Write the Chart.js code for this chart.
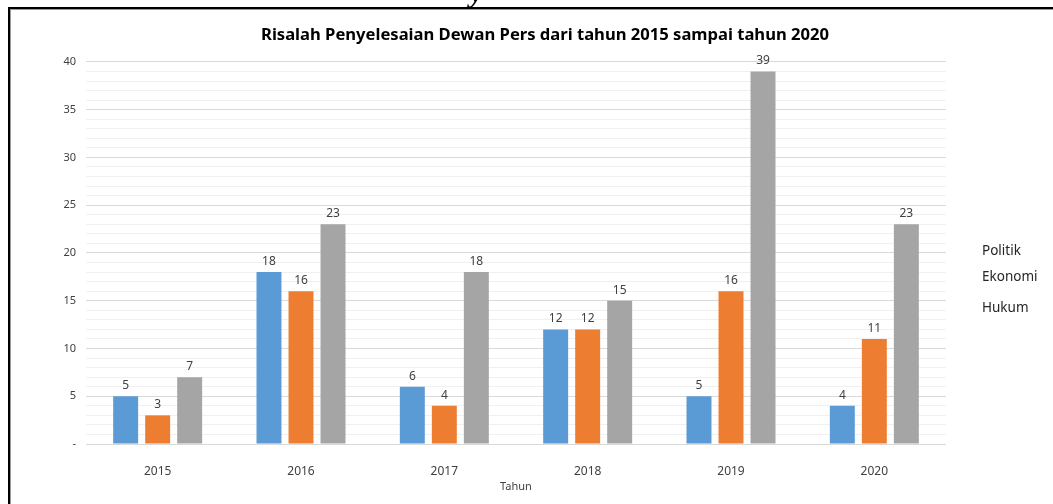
<!DOCTYPE html>
<html><head><meta charset="utf-8">
<script src="https://cdn.jsdelivr.net/npm/chart.js@4.4.1/dist/chart.umd.min.js"></script>
<style>
html,body{margin:0;padding:0;background:#fff;width:1053px;height:504px;overflow:hidden;}
#wrap{position:relative;width:1053px;height:504px;overflow:hidden;}
#c{position:absolute;left:0;top:0;}
#frame{position:absolute;left:8px;top:7px;width:1045px;height:497px;border-left:2px solid #000;border-top:2px solid #000;pointer-events:none;box-sizing:border-box;}
#frame2{position:absolute;left:10px;top:9px;width:1043px;height:495px;border-left:1px solid #9a9a9a;border-top:1px solid #9a9a9a;pointer-events:none;box-sizing:border-box;}
#glyph{position:absolute;left:470px;top:-23px;font:bold italic 30px 'Liberation Serif',serif;color:#000;line-height:30px;}
</style></head>
<body><div id="wrap">
<canvas id="c" width="1053" height="504"></canvas>
<div id="glyph">y</div>
<div id="frame"></div><div id="frame2"></div>
</div>
<script>
const categories = ['2015','2016','2017','2018','2019','2020'];
const seriesNames = ['Politik','Ekonomi','Hukum'];
const politik = [5, 18, 6, 12, 5, 4];
const ekonomi = [3, 16, 4, 12, 16, 11];
const hukum = [7, 23, 18, 15, 39, 23];
const yMax = 40;
const yMajorStep = 5;
const titleText = 'Risalah Penyelesaian Dewan Pers dari tahun 2015 sampai tahun 2020';
const xAxisTitle = 'Tahun';

const colors = ['#5B9BD5', '#ED7D31', '#A5A5A5'];
const FONT = "'Noto Sans', 'Open Sans', sans-serif";

const dataLabels = {
  id: 'dataLabels',
  afterDatasetsDraw(chart) {
    const ctx = chart.ctx;
    ctx.save();
    ctx.font = '12px ' + FONT;
    ctx.fillStyle = '#404040';
    ctx.textAlign = 'center';
    ctx.textBaseline = 'alphabetic';
    chart.data.datasets.forEach((ds, i) => {
      const meta = chart.getDatasetMeta(i);
      meta.data.forEach((el, j) => {
        ctx.fillText(String(ds.data[j]), el.x, el.y - 7);
      });
    });
    ctx.restore();
  }
};

const sideLegend = {
  id: 'sideLegend',
  afterDraw(chart) {
    const ctx = chart.ctx;
    const ys = [251, 277, 308];
    ctx.save();
    ctx.font = '13.5px ' + FONT;
    ctx.fillStyle = '#262626';
    ctx.textAlign = 'left';
    ctx.textBaseline = 'middle';
    chart.data.datasets.forEach((ds, i) => {
      ctx.fillText(ds.label, 982, ys[i]);
    });
    ctx.restore();
  }
};

new Chart(document.getElementById('c'), {
  type: 'bar',
  data: {
    labels: categories,
    datasets: [
      { label: seriesNames[0], data: politik, backgroundColor: colors[0] },
      { label: seriesNames[1], data: ekonomi, backgroundColor: colors[1] },
      { label: seriesNames[2], data: hukum, backgroundColor: colors[2] }
    ]
  },
  options: {
    responsive: false,
    animation: false,
    layout: { padding: { left: 37, right: 0, top: 0, bottom: 0 } },
    datasets: { bar: { categoryPercentage: 0.67, barPercentage: 0.78 } },
    plugins: {
      legend: { display: false },
      tooltip: { enabled: false },
      title: {
        display: true,
        text: titleText,
        color: '#000',
        font: { family: FONT, size: 16.6, weight: 'bold', lineHeight: 1.2 },
        padding: { top: 25, bottom: 17 }
      }
    },
    scales: {
      x: {
        grid: { display: false },
        border: { display: false },
        ticks: { color: '#404040', font: { family: FONT, size: 12 }, padding: 12.8 },
        title: { display: true, text: xAxisTitle, color: '#404040', font: { family: FONT, size: 11 }, padding: { top: 7, bottom: 10.4 } },
        afterFit(s) { s.height = 60; }
      },
      y: {
        min: 0, max: yMax,
        border: { display: false },
        grid: {
          drawTicks: false,
          color: (c) => (c.tick && c.tick.value % yMajorStep === 0) ? '#d9d9d9' : '#f0f0f0',
          lineWidth: 1
        },
        ticks: {
          stepSize: 1,
          autoSkip: false,
          padding: 10,
          color: '#404040',
          font: { family: FONT, size: 11 },
          callback: (v) => v % yMajorStep === 0 ? (v === 0 ? '-' : String(v)) : ''
        },
        afterFit(s) { s.width = 49; }
      },
      y2: {
        position: 'right',
        display: true,
        grid: { display: false },
        border: { display: false },
        ticks: { display: false },
        afterFit(s) { s.width = 107; }
      }
    }
  },
  plugins: [dataLabels, sideLegend]
});
</script>
</body></html>
